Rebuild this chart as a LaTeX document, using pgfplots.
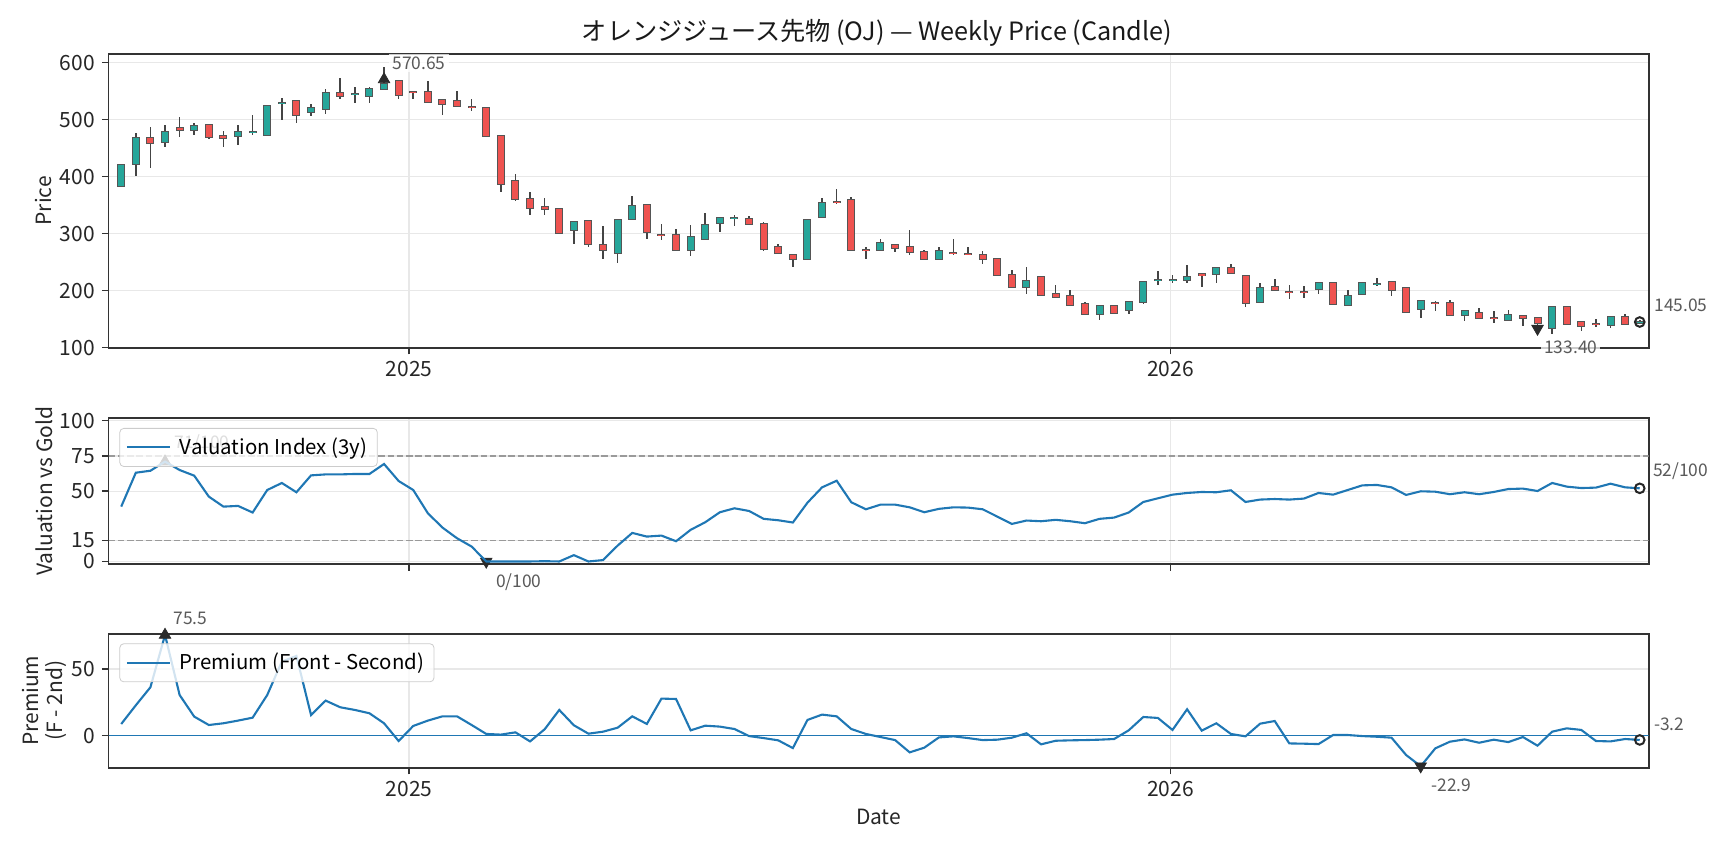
\documentclass[border=0pt]{standalone}
\usepackage{fontspec}
\setmainfont{Noto Sans CJK JP}
\usepackage{pgfplots}
\usepackage{pgfplotstable}
\pgfplotsset{compat=1.18}
\definecolor{upc}{HTML}{26A69A}
\definecolor{dnc}{HTML}{EF5350}
\definecolor{edgec}{HTML}{555555}
\definecolor{wickc}{HTML}{444444}
\definecolor{gridc}{HTML}{E8E8E8}
\definecolor{spinec}{HTML}{333333}
\definecolor{annc}{HTML}{5A5A5A}
\definecolor{mpl}{HTML}{1F77B4}
\definecolor{markc}{HTML}{2B2B2B}
\definecolor{dashc}{HTML}{9A9A9A}

\pgfplotstableread{
x o h l c
-138 383.3 421.5 382.5 420.8
-131 422 476 401.5 468.2
-124 468 486.5 415.5 458.3
-117 460.6 490 452.4 478.8
-110 486 504 470 482
-103 481.7 495 473.5 489.3
-96 491 491.5 466.5 469
-89 471.7 480 452.4 467.6
-82 470.6 490 456 478.2
-75 477.6 507.5 473.5 479
-68 473 524.3 472.5 523.9
-61 529.8 537.3 499.3 530
-54 532.6 533 494.6 507.5
-47 513.3 526.8 506.3 521
-40 518.6 554.3 510.4 547.3
-33 546 572.5 535.6 541.4
-26 544.5 556.7 528.5 545
-19 541.4 556.7 529.7 554.3
-12 553.5 593 553 562
-5 568.4 568.8 536.8 543.2
2 548.5 549 535.6 548
9 549 567.2 530 530.9
16 534.4 534.8 508.6 527.4
23 533.2 549.6 523 523.9
30 523 535.6 514.5 522.7
37 520.4 521 470 471.2
44 471.2 471.6 373.4 386.8
51 392 405.6 357.5 360
58 360.5 373.4 333.5 345.3
65 347.6 363.4 333.5 342.9
72 343.5 344 299 301.3
79 306 321.3 282.6 320.7
86 322.4 323 276.7 281.4
93 280.8 313.5 255.6 270.9
100 266.2 324.3 248.6 323.6
107 326.5 365.7 326 348.7
114 350.5 351 290.8 303.6
121 298 316.5 288.4 297.6
128 298 309 270 270.9
135 270.9 314.8 260.9 294.3
142 290.2 337 289 315.9
149 318.3 328 303 327.2
156 327 333.5 313.7 327.3
163 325.3 331.6 316 317.1
170 317.7 320.6 269.7 273.2
177 276.7 282.6 265 266.2
184 262.1 262.5 241.6 255.6
191 255.6 324 254.5 323.6
198 329.4 363.4 328 354
205 356.3 379.2 352.9 356
212 358.7 364.6 270 270.9
219 271 276.7 255.6 270.6
226 270.9 290.8 270 283.7
233 279.7 282.6 268 275.6
240 276.7 306 262 267.3
247 268.5 271 254 255
254 255 276.7 254 269.7
261 266.8 291.4 262 266.5
268 264 276.7 262 263.8
275 262.7 269.7 247.4 255.6
282 255.6 256 225 226.9
289 227.5 236.9 206 206.4
296 206.4 241 194.2 216.9
303 224 224.5 191 191.8
310 194.8 209.4 188 188.9
317 190 200.6 174 174.2
324 177.1 180.6 158 158.4
331 159.6 173.5 147.9 173
338 173 173.5 159.6 161.3
345 165.4 180 158.4 179.5
352 180.1 215.5 177.1 215.2
359 218 234.4 209.4 218.3
366 219.4 228.1 213.5 219.5
373 218.2 245.7 213.5 224
380 228.5 229 206.4 228.1
387 228.7 240 213.5 239.8
394 239.2 247.4 230 230.4
401 225.8 226.2 171.2 178.9
408 179.5 214 179 204.7
415 206.4 221 200 200.6
422 197.7 210.5 185.9 197.5
429 198 208.2 187.7 197.6
436 202.3 215 194.8 212.9
443 214 214.5 175 176
450 174.2 201.8 174 190.6
457 193.6 214 193 213.5
464 211.6 222.8 207.6 211.7
471 214.6 215 190.6 200.6
478 204.5 205 161 162
485 167.5 182.4 152.7 182
492 177.9 182.5 165 177.8
499 179 184.5 156 157
506 157 165.5 146 165
513 160 170.5 152 152.1
520 152.8 163.8 142.8 152.7
527 148.6 166.2 148 156.8
534 156.2 156.5 138.7 151.5
541 152.7 153.5 137 142.8
548 134.5 172.5 124 172
555 172 172.5 141 141.6
562 144.5 145 129.9 138.7
569 141.6 150.4 136.9 141.5
576 139.2 155 135.1 154.5
583 154.5 159.1 141 141.6
590 144 149 141 145.05
}\candles

\pgfplotstableread{
x v
-138 39.0
-131 63.1
-124 64.5
-117 71
-110 65
-103 61
-96 46.1
-89 39
-82 39.5
-75 34.8
-68 50.8
-61 55.8
-54 49.2
-47 61.2
-40 61.9
-33 61.9
-26 62.2
-19 62.2
-12 69.3
-5 57.2
2 50.8
9 34.3
16 24.1
23 16.5
30 10.6
37 0
44 0
51 0
58 0
65 0.2
72 0
79 4.5
86 0
93 1
100 11.3
107 20.3
114 17.7
121 18.4
128 14.4
135 22.5
142 27.9
149 35
156 37.8
163 35.9
170 30.3
177 29.3
184 27.7
191 41.8
198 52.7
205 57.4
212 42.1
219 37.1
226 40.4
233 40.4
240 38.5
247 35
254 37.4
261 38.5
268 38.3
275 37.1
282 31.9
289 26.7
296 29.1
303 28.6
310 29.6
317 28.6
324 27.2
331 30.3
338 31.2
345 34.8
352 42.3
359 44.9
366 47.5
373 48.7
380 49.4
387 49.2
394 50.6
401 42.3
408 44
415 44.4
422 44
429 44.7
436 48.7
443 47.5
450 50.8
457 54.1
464 54.4
471 52.7
478 47.3
485 49.9
492 49.6
499 47.8
506 49.2
513 47.8
520 49.4
527 51.5
534 51.8
541 50.1
548 55.8
555 53.2
562 52.2
569 52.5
576 55.3
583 52.7
590 52
}\valdata

\pgfplotstableread{
x p
-138 8.75
-131 22.8
-124 36.3
-117 75.5
-110 30.5
-103 14.3
-96 8
-89 9.3
-82 11.3
-75 13.5
-68 30.5
-61 55.5
-54 59.8
-47 15.5
-40 26.3
-33 21.3
-26 19.3
-19 16.8
-12 9.3
-5 -4
2 7.3
9 11.3
16 14.5
23 14.5
30 8
37 1.3
44 0.8
51 2.5
58 -4.3
65 4.8
72 19.3
79 7.8
86 1.5
93 3
100 6
107 14.5
114 8.8
121 27.8
128 27.5
135 4
142 7.5
149 6.8
156 5
163 -0.3
170 -1.8
177 -3.5
184 -9.3
191 11.8
198 15.8
205 14.5
212 5
219 1.3
226 -1
233 -3.3
240 -12.5
247 -9
254 -1.3
261 -0.5
268 -1.8
275 -3.3
282 -3
289 -1.5
296 1.8
303 -6.5
310 -3.8
317 -3.5
324 -3.3
331 -3
338 -2.5
345 4
352 14
359 13.3
366 4.3
373 19.8
380 3.8
387 9.3
394 1.3
401 -0.5
408 9
415 11
422 -5.8
429 -6
436 -6.3
443 0.5
450 0.5
457 -0.3
464 -0.8
471 -1.5
478 -14.5
485 -22.9
492 -9.5
499 -4.5
506 -2.8
513 -5.3
520 -3
527 -4.8
534 -1
541 -7.5
548 3
555 5.5
562 4.3
569 -4
576 -4.3
583 -2.5
590 -3.2
}\premdata

\tikzset{ann/.style={font=\fontsize{8.7}{10}\selectfont, text=annc, fill=white, fill opacity=0.75, text opacity=1, inner sep=1.5pt}}
\pgfplotsset{
  base/.style={
    scale only axis, width=770.1pt,
    xmin=-144.1, xmax=594.3,
    xtick={0,365},
    axis line style={spinec, line width=0.9pt},
    tick style={spinec, line width=0.65pt},
    major tick length=3.35pt,
    tick align=outside, tick pos=left,
    grid=major, major grid style={gridc, line width=0.6pt},
    ticklabel style={font=\fontsize{10.5}{12}\selectfont, text=black!85},
    label style={font=\fontsize{10.5}{12}\selectfont, text=black!85},
    /pgf/number format/assume math mode=true,
    clip mode=individual,
    ylabel style={at={(axis description cs:-0.0419,0.5)}, anchor=center},
    legend cell align=left,
    legend image code/.code={\draw[##1, line width=1.05pt] (0pt,0pt) -- (21.5pt,0pt);},
    legend style={fill=white, fill opacity=0.8, text opacity=1, draw=black!20, draw opacity=1,
      rounded corners=2pt, font=\fontsize{10.2}{12}\selectfont, inner xsep=3pt, inner ysep=2.6pt,
      /tikz/every odd column/.append style={column sep=2.5pt}},
  },
  wick/.style={forget plot, draw=none, mark=none,
    error bars/.cd, y dir=both, y explicit, error mark=none,
    error bar style={draw=wickc, line width=0.8pt, solid}, /pgfplots/.cd},
  body/.style={forget plot, draw=none, mark=none,
    error bars/.cd, y dir=both, y explicit, error mark=none,
    error bar style={draw=#1, solid}, /pgfplots/.cd},
}

\begin{document}
\begin{tikzpicture}
\path[use as bounding box] (0,0) rectangle (864pt,424.5pt);
\node[font=\fontsize{12.6}{14}\selectfont, text=black!90] at (438.5pt,408pt) {オレンジジュース先物 (OJ) — Weekly Price (Candle)};

% ---------------- top: candles
\begin{axis}[base, at={(54.25pt,250.65pt)}, anchor=south west, height=146.85pt,
  ymin=100, ymax=615.3, ytick={100,200,300,400,500,600},
  xticklabels={2025,2026}, ylabel={Price}]
\addplot[wick] table[x=x, y expr={(\thisrow{h}+\thisrow{l})/2}, y error expr={(\thisrow{h}-\thisrow{l})/2}]{\candles};
\addplot[body={edgec, line width=4pt}] table[x=x, y expr={(\thisrow{o}+\thisrow{c})/2}, y error expr={abs(\thisrow{c}-\thisrow{o})/2+1.75}]{\candles};
\addplot[restrict expr to domain={\thisrow{c}-\thisrow{o}}{0:1000}, body={upc, line width=3pt}] table[x=x, y expr={(\thisrow{o}+\thisrow{c})/2}, y error expr={abs(\thisrow{c}-\thisrow{o})/2}]{\candles};
\addplot[restrict expr to domain={\thisrow{c}-\thisrow{o}}{-1000:0}, body={dnc, line width=3pt}] table[x=x, y expr={(\thisrow{o}+\thisrow{c})/2}, y error expr={abs(\thisrow{c}-\thisrow{o})/2}]{\candles};
\addplot[only marks, forget plot, mark=triangle*, mark size=3.3pt, color=markc] coordinates {(-12,570.65)};
\addplot[only marks, forget plot, mark=triangle*, mark size=3.3pt, color=markc, mark options={rotate=180}] coordinates {(541,133.4)};
\addplot[only marks, forget plot, mark=o, mark size=2.4pt, color=black!85, mark options={line width=1pt}] coordinates {(590,145.05)};
\node[ann, anchor=west, xshift=2.5pt, yshift=8.2pt] at (axis cs:-12,570.65) {570.65};
\node[ann, anchor=center, xshift=16.65pt, yshift=-9.3pt] at (axis cs:541,133.4) {133.40};
\node[ann, anchor=west, xshift=5.65pt, yshift=8.55pt] at (axis cs:590,145.05) {145.05};
\end{axis}

% ---------------- middle: valuation
\begin{axis}[base, at={(54.25pt,142.35pt)}, anchor=south west, height=73.15pt,
  ymin=-2, ymax=102, ytick={0,15,50,75,100},
  xticklabels={,}, ylabel={Valuation vs Gold},
  legend style={at={(axis description cs:0.00708,0.9316)}, anchor=north west}]
\addplot[forget plot, dashc, line width=0.65pt, dash pattern=on 3.25pt off 1.4pt] coordinates {(-144.1,75) (594.3,75)};
\addplot[forget plot, dashc, line width=0.65pt, dash pattern=on 3.25pt off 1.4pt] coordinates {(-144.1,15) (594.3,15)};
\addplot[forget plot, only marks, mark=triangle*, mark size=3.3pt, color=markc] coordinates {(-117,71)};
\addplot[forget plot, only marks, mark=triangle*, mark size=3.3pt, color=markc, mark options={rotate=180}] coordinates {(37,0)};
\node[ann, anchor=west, xshift=3.05pt, yshift=9.15pt] at (axis cs:-117,71) {71/100};
\addplot[mpl, line width=1.05pt] table[x=x, y=v]{\valdata};
\addlegendentry{Valuation Index (3y)}
\addplot[forget plot, only marks, mark=o, mark size=2.4pt, color=black!85, mark options={line width=1pt}] coordinates {(590,52)};
\node[ann, anchor=west, xshift=3.2pt, yshift=-10.1pt] at (axis cs:37,0) {0/100};
\node[ann, anchor=west, xshift=4.95pt, yshift=8.8pt] at (axis cs:590,52) {52/100};
\end{axis}

% ---------------- bottom: premium
\begin{axis}[base, at={(54.25pt,40.65pt)}, anchor=south west, height=67pt,
  ymin=-24, ymax=76.46, ytick={0,50},
  xticklabels={2025,2026}, xlabel={Date},
  xlabel style={at={(axis description cs:0.5,-0.368)}, anchor=center},
  ylabel={Premium\\(F - 2nd)}, ylabel style={align=center},
  legend style={at={(axis description cs:0.00708,0.928)}, anchor=north west}]
\addplot[forget plot, mpl, line width=0.7pt] coordinates {(-144.1,0) (594.3,0)};
\addplot[mpl, line width=1.05pt] table[x=x, y=p]{\premdata};
\addlegendentry{Premium (Front - Second)}
\addplot[forget plot, only marks, mark=triangle*, mark size=3.3pt, color=markc] coordinates {(-117,75.5)};
\addplot[forget plot, only marks, mark=triangle*, mark size=3.3pt, color=markc, mark options={rotate=180}] coordinates {(485,-22.9)};
\addplot[forget plot, only marks, mark=o, mark size=2.4pt, color=black!85, mark options={line width=1pt}] coordinates {(590,-3.2)};
\node[ann, anchor=west, xshift=2.55pt, yshift=8.35pt] at (axis cs:-117,75.5) {75.5};
\node[ann, anchor=west, xshift=3.65pt, yshift=-9.4pt] at (axis cs:485,-22.9) {-22.9};
\node[ann, anchor=west, xshift=5.45pt, yshift=8pt] at (axis cs:590,-3.2) {-3.2};
\end{axis}
\end{tikzpicture}
\end{document}
